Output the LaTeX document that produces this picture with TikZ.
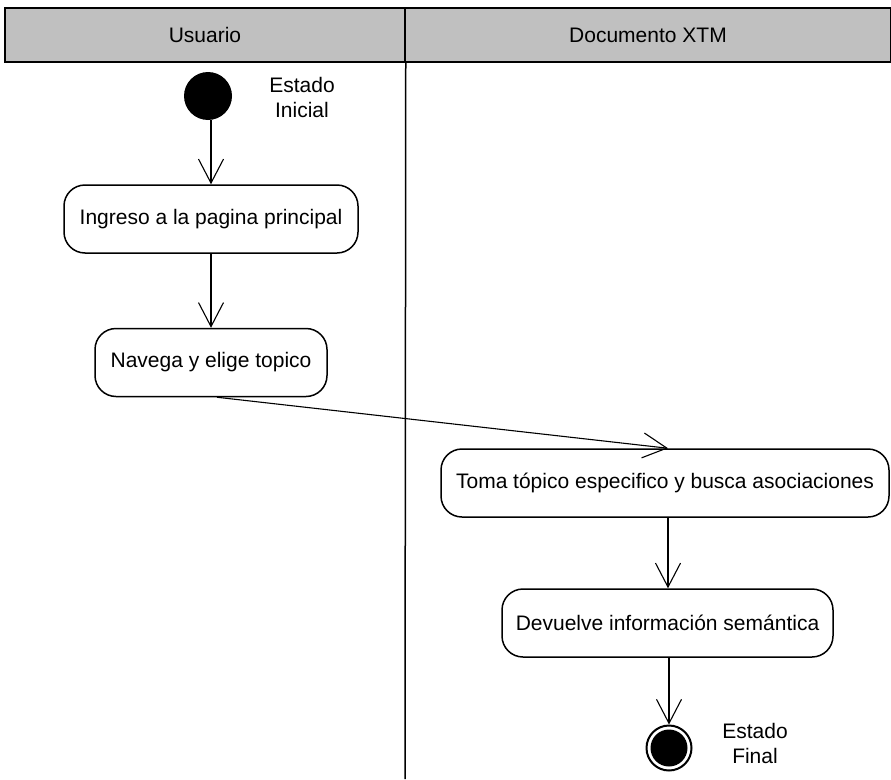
\documentclass[tikz,border=0pt]{standalone}
\usepackage{fontspec}
\setmainfont{Liberation Sans}
\usetikzlibrary{arrows.meta}
\definecolor{headgray}{HTML}{C0C0C0}
\begin{document}
\begin{tikzpicture}[x=1pt,y=-1pt,
  every node/.style={font=\fontsize{21}{25}\selectfont, inner sep=0pt},
  lanehead/.style={draw, line width=1.5pt, fill=headgray, rectangle, minimum height=54pt},
  activity/.style={draw, line width=1.5pt, rectangle, rounded corners=21pt, minimum height=68pt, fill=white},
  flow/.style={line width=1.1pt, -{Straight Barb[length=24pt,width=25pt,line width=1.1pt]}},
  lanesep/.style={line width=1.5pt}]
  \useasboundingbox (0,0) rectangle (891,779);
  \clip (0,0) rectangle (891,779);

  % swimlane headers
  \node[lanehead, minimum width=400pt] (hu) at (205,35) {Usuario};
  \node[lanehead, minimum width=486pt] (hd) at (648,35) {Documento XTM};
  \coordinate (sepend) at (405,779);
  \draw[lanesep] (hu.south east) -- (sepend);

  % initial state
  \node[circle, fill=black, minimum size=48pt] (ini) at (208,96) {};
  \node[align=center] (inilbl) at (302,97) {Estado\\Inicial};

  % activities
  \node[activity, minimum width=294pt] (a1) at (211,219) {Ingreso a la pagina principal};
  \node[activity, minimum width=232pt] (a2) at (211,362.5) {Navega y elige topico};
  \node[activity, minimum width=448pt] (a3) at (665,483) {Toma tópico especifico y busca asociaciones};
  \node[activity, minimum width=331pt] (a4) at (667.5,623) {Devuelve información semántica};

  % final state
  \node[circle, draw, line width=2pt, minimum size=45pt] (fin) at (669,748) {};
  \node[circle, fill=black, minimum size=37pt] (fincore) at (fin.center) {};
  \node[align=center] (finlbl) at (755,743) {Estado\\Final};

  % control flow
  \draw[flow] (a1.north |- ini.south) -- (a1.north);
  \draw[flow] (a1.south) -- (a2.north);
  \draw[flow] ([xshift=6pt]a2.south) -- ([xshift=3pt]a3.north);
  \draw[flow] ([xshift=3pt]a3.south) -- ([xshift=0.5pt]a4.north);
  \draw[flow] (a4.south -| fin.north) -- (fin.north);
\end{tikzpicture}
\end{document}
